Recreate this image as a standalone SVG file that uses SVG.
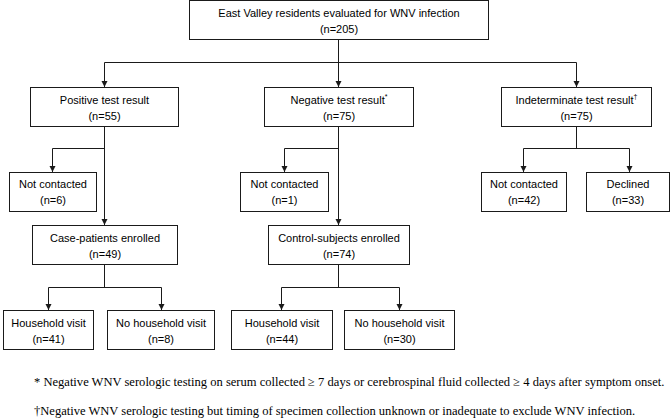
<svg xmlns="http://www.w3.org/2000/svg" width="672" height="420" viewBox="0 0 672 420">
<defs>
<marker id="arr" markerUnits="userSpaceOnUse" markerWidth="7" markerHeight="7" refX="6" refY="3" orient="auto">
<path d="M0,0 L6,3 L0,6 z" fill="#1a1a1a"/>
</marker>
<style>
.box{fill:#fff;stroke:#1a1a1a;stroke-width:1}
.t{font-family:"Liberation Sans",Arial,sans-serif;font-size:11px;fill:#000;text-anchor:middle}
.c{fill:none;stroke:#1a1a1a;stroke-width:1}
.a{marker-end:url(#arr)}
.fn{font-family:"Liberation Serif","Times New Roman",serif;font-size:12.55px;fill:#000}
</style>
</defs>
<rect width="672" height="420" fill="#fff"/>
<g id="connectors">
<path class="c a" d="M338.5 39.5 V87"/>
<path class="c" d="M104.5 62.5 H576.5"/>
<path class="c a" d="M104.5 62.5 V87"/>
<path class="c a" d="M576.5 62.5 V87"/>
<path class="c a" d="M104.5 126.5 V225"/>
<path class="c a" d="M104.5 148.5 H52.5 V172"/>
<path class="c a" d="M338.5 126.5 V225"/>
<path class="c a" d="M338.5 148.5 H284.5 V172"/>
<path class="c" d="M576.5 126.5 V148.5 M523.5 148.5 H629.5"/>
<path class="c a" d="M523.5 148.5 V172"/>
<path class="c a" d="M629.5 148.5 V172"/>
<path class="c" d="M104.5 264.5 V287.5 M48.5 287.5 H161.5"/>
<path class="c a" d="M48.5 287.5 V310"/>
<path class="c a" d="M161.5 287.5 V310"/>
<path class="c" d="M338.5 264.5 V287.5 M281.5 287.5 H399.5"/>
<path class="c a" d="M281.5 287.5 V310"/>
<path class="c a" d="M399.5 287.5 V310"/>
</g>
<g id="n-total">
<rect class="box" x="189.5" y="0.5" width="299" height="39"/>
<text class="t" x="339" y="17">East Valley residents evaluated for WNV infection</text>
<text class="t" x="339" y="33">(n=205)</text>
</g>
<g id="n-positive">
<rect class="box" x="30.5" y="87.5" width="148" height="39"/>
<text class="t" x="104.5" y="104">Positive test result</text>
<text class="t" x="104.5" y="120">(n=55)</text>
</g>
<g id="n-negative">
<rect class="box" x="264.5" y="87.5" width="149" height="39"/>
<text class="t" x="339" y="104">Negative test result<tspan font-size="7" dy="-5">*</tspan></text>
<text class="t" x="339" y="120">(n=75)</text>
</g>
<g id="n-indeterminate">
<rect class="box" x="501.5" y="87.5" width="150" height="39"/>
<text class="t" x="576.5" y="104">Indeterminate test result<tspan font-size="7" dy="-5">†</tspan></text>
<text class="t" x="576.5" y="120">(n=75)</text>
</g>
<g id="n-pos-notcontacted">
<rect class="box" x="9.5" y="172.5" width="87" height="39"/>
<text class="t" x="53" y="188">Not contacted</text>
<text class="t" x="53" y="204">(n=6)</text>
</g>
<g id="n-neg-notcontacted">
<rect class="box" x="240.5" y="172.5" width="88" height="39"/>
<text class="t" x="284.5" y="188">Not contacted</text>
<text class="t" x="284.5" y="204">(n=1)</text>
</g>
<g id="n-ind-notcontacted">
<rect class="box" x="481.5" y="172.5" width="85" height="39"/>
<text class="t" x="524" y="188">Not contacted</text>
<text class="t" x="524" y="204">(n=42)</text>
</g>
<g id="n-declined">
<rect class="box" x="586.5" y="172.5" width="83" height="39"/>
<text class="t" x="628" y="188">Declined</text>
<text class="t" x="628" y="204">(n=33)</text>
</g>
<g id="n-cases">
<rect class="box" x="32.5" y="225.5" width="145" height="39"/>
<text class="t" x="105" y="242">Case-patients enrolled</text>
<text class="t" x="105" y="258">(n=49)</text>
</g>
<g id="n-controls">
<rect class="box" x="268.5" y="225.5" width="141" height="39"/>
<text class="t" x="339" y="242">Control-subjects enrolled</text>
<text class="t" x="339" y="258">(n=74)</text>
</g>
<g id="n-case-visit">
<rect class="box" x="3.5" y="310.5" width="90" height="39"/>
<text class="t" x="48.5" y="327">Household visit</text>
<text class="t" x="48.5" y="343">(n=41)</text>
</g>
<g id="n-case-novisit">
<rect class="box" x="107.5" y="310.5" width="107" height="39"/>
<text class="t" x="161" y="327">No household visit</text>
<text class="t" x="161" y="343">(n=8)</text>
</g>
<g id="n-ctrl-visit">
<rect class="box" x="231.5" y="310.5" width="101" height="39"/>
<text class="t" x="282" y="327">Household visit</text>
<text class="t" x="282" y="343">(n=44)</text>
</g>
<g id="n-ctrl-novisit">
<rect class="box" x="344.5" y="310.5" width="110" height="39"/>
<text class="t" x="399.5" y="327">No household visit</text>
<text class="t" x="399.5" y="343">(n=30)</text>
</g>
<g id="footnotes">
<text class="fn" x="34" y="386">* Negative WNV serologic testing on serum collected ≥ 7 days or cerebrospinal fluid collected ≥ 4 days after symptom onset.</text>
<text class="fn" x="34" y="415">†Negative WNV serologic testing but timing of specimen collection unknown or inadequate to exclude WNV infection.</text>
</g>
</svg>
